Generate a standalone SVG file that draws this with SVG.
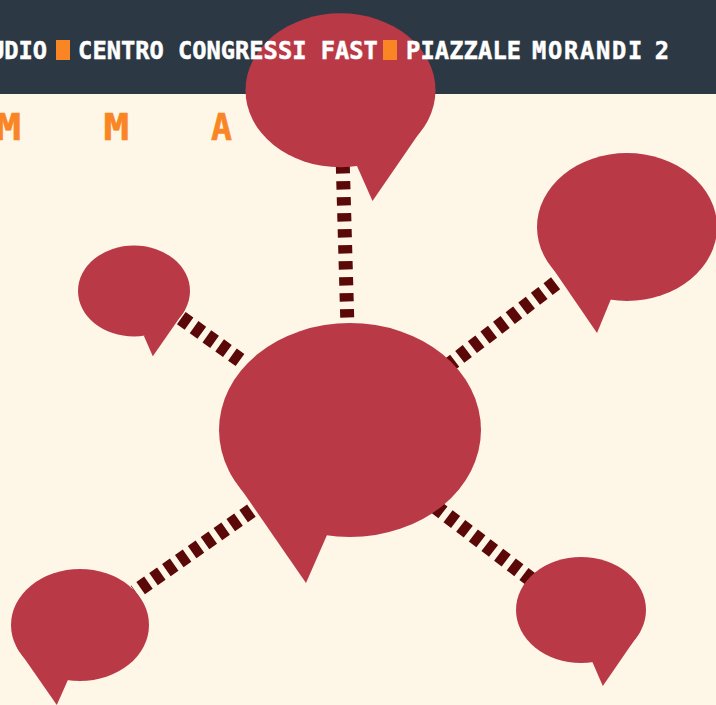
<svg xmlns="http://www.w3.org/2000/svg" width="716" height="705" viewBox="0 0 716 705">
<style>
.b{fill:#b93a46}
.c{fill:none;stroke:#5a0808;stroke-width:15;stroke-dasharray:9.500 6.300}
.t{font-family:"DejaVu Sans Mono",monospace;font-weight:700;font-size:25.500px}
.w{fill:#fff;stroke:#fff;stroke-width:.5}
.l{font-family:"DejaVu Sans Mono",monospace;font-weight:700;font-size:37px;fill:#f98525;stroke:#f98525;stroke-width:.6}
.o{fill:#f98525}
</style>
<rect width="716" height="705" fill="#fef6e7"/>
<rect width="716" height="94" fill="#2c3944"/>
<g id="connectors">
<path class="c" style="stroke-width:14;stroke-dasharray:8.400 7.600" d="M347.200 317.500L342.500 155"/>
<path class="c" style="stroke-dasharray:9.500 6.400" d="M555.600 283.300L440 372"/>
<path class="c" style="stroke-dasharray:9.500 6.400" d="M435.400 506.600L537 584"/>
<path class="c" style="stroke-dasharray:9.500 6.200" d="M251.400 510.700L135 592"/>
<path class="c" style="stroke-dasharray:9.500 6.200" d="M181.300 318.100L240 360"/>
</g>
<g id="node-top"><ellipse class="b" cx="340.500" cy="90.300" rx="95" ry="77"/><path class="b" d="M427.500 121L372.500 201L357 166Z"/></g>
<g id="node-right"><ellipse class="b" cx="627" cy="227" rx="90" ry="74"/><path class="b" d="M544.600 256.500L597 333L611 299Z"/></g>
<g id="node-upper-left"><ellipse class="b" cx="134" cy="291" rx="56" ry="45.500"/><path class="b" d="M185.300 309.400L152.800 356.300L143.800 335.800Z"/></g>
<g id="node-centre"><ellipse class="b" cx="350" cy="430" rx="131" ry="107"/><path class="b" d="M230 473L306 583L327 535Z"/></g>
<g id="node-lower-left"><ellipse class="b" cx="80" cy="625" rx="69" ry="56"/><path class="b" d="M16.800 647.500L56.800 705L67.900 680Z"/></g>
<g id="node-lower-right"><ellipse class="b" cx="581" cy="610" rx="65" ry="53"/><path class="b" d="M640.500 631.300L602.800 685.900L592.400 662.100Z"/></g>
<g id="header">
<rect class="o" x="56" y="40" width="14" height="20"/>
<rect class="o" x="383" y="40" width="14" height="20"/>
<g transform="scale(.93 1)">
<text class="t w" x="-10.800" y="59.500">UDIO</text>
<text class="t w" x="84" y="59.500">CENTRO CONGRESSI FAST</text>
<text class="t w" x="436.600" y="59.500"><tspan letter-spacing=".13">PIAZZALE</tspan><tspan letter-spacing="-3.75"> </tspan><tspan letter-spacing="1.85">MORANDI</tspan><tspan letter-spacing="-3.75"> </tspan><tspan>2</tspan></text>
</g>
</g>
<g id="letters">
<text class="l" x="-4.500" y="140" textLength="25.600" lengthAdjust="spacingAndGlyphs">M</text>
<text class="l" x="103.500" y="140" textLength="25.600" lengthAdjust="spacingAndGlyphs">M</text>
<text class="l" x="211" y="140" textLength="21" lengthAdjust="spacingAndGlyphs">A</text>
</g>
</svg>
